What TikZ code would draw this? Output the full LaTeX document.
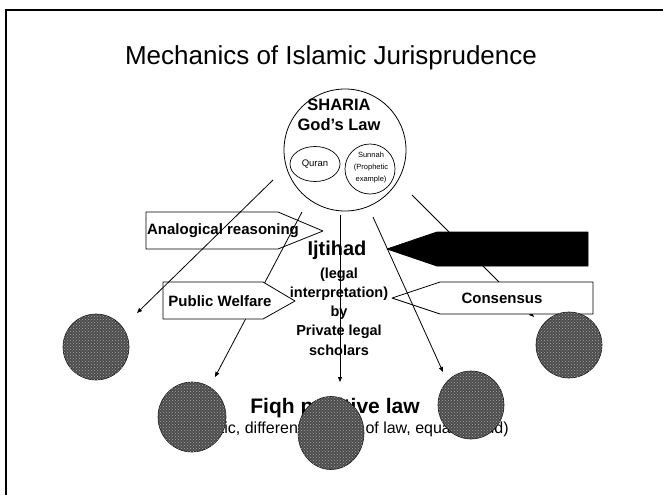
\documentclass[tikz,border=0pt]{standalone}
\usepackage{fontspec}
\setmainfont{Liberation Sans}
\usetikzlibrary{arrows.meta,shapes.geometric,patterns}

\newcommand{\fs}[2]{\fontsize{#1}{#2}\selectfont}

\begin{document}
\begin{tikzpicture}[x=1pt,y=1pt,
  tag/.style={draw=black,fill=white,line width=0.8pt,line join=round},
  lbl/.style={font=\bfseries\fs{15}{18}},
  link/.style={line width=0.8pt,-{Triangle[length=5pt,width=4pt]}},
  ball/.style={ellipse,draw=black!90,fill=black!70,line width=0.6pt,
    postaction={pattern=crosshatch dots,pattern color=black!35}}]
\tikzstyle{every node}+=[inner sep=0pt]
\useasboundingbox (0,0) rectangle (663,-495);
% frame
\draw [line width=1.5pt] (663,-10) -- (6,-10) -- (6,-495);
\node (title) at (331,-58) {\fs{26}{30}Mechanics of Islamic Jurisprudence};
% sharia
\node [circle,draw,line width=0.8pt,minimum size=122pt] (sharia) at (345,-150) {};
\node [font=\bfseries\fs{16.5}{20}] (shariatxt) at (339,-105) {SHARIA};
\node [font=\bfseries\fs{16.5}{20}] (godslaw) at (339,-125) {God's Law};
\node [ellipse,draw,line width=0.7pt,minimum width=50pt,minimum height=35pt,font=\fs{9.5}{11}] (quran) at (315,-164) {Quran};
\node [circle,draw,line width=0.7pt,minimum size=50pt] (sunnah) at (370,-169) {};
\node [align=center,font=\fs{7.5}{12}] (sunnahtxt) at (371,-168) {Sunnah\\(Prophetic\\example)};
% analogical reasoning
\draw [tag] (146,-212) -- (278,-212) -- (323,-231) -- (278,-249) -- (146,-249) -- cycle;
\node [lbl] (analog) at (223,-231) {Analogical reasoning};
% ijtihad
\node [font=\bfseries\fs{20}{24}] (ijtihad) at (337,-250) {Ijtihad};
\node [align=center,font=\bfseries\fs{14.5}{19.25}] (ijtdesc) at (339,-311.5) {(legal\\interpretation)\\by\\Private legal\\scholars};
\coordinate (s2) at (302,-212);
\coordinate (e2) at (215,-377);
\coordinate (s5) at (412,-195);
\coordinate (e5) at (534,-317);
\draw [link] (s2) -- (e2);
\draw [link] (s5) -- (e5);
% consensus and the black arrow
\draw [tag,fill=black] (387,-249) -- (437,-232) -- (588,-232) -- (588,-266) -- (437,-266) -- cycle;
\draw [tag] (392,-298) -- (440,-282) -- (593,-282) -- (593,-314) -- (440,-314) -- cycle;
\node [lbl] (consensus) at (502,-298) {Consensus};
% public welfare
\draw [tag] (163,-282) -- (263,-282) -- (295,-301) -- (263,-319) -- (163,-319) -- cycle;
\node [lbl] (welfare) at (220,-301) {Public Welfare};
\coordinate (s1) at (273,-180);
\coordinate (e1) at (137,-313);
\coordinate (s3) at (340,-215);
\coordinate (e3) at (340,-382);
\coordinate (s4) at (373,-217);
\coordinate (e4) at (443,-372);
\draw [link] (s1) -- (e1);
\draw [link] (s3) -- (e3);
\draw [link] (s4) -- (e4);
% fiqh
\node [font=\bfseries\fs{21}{25}] (fiqh) at (335,-408) {Fiqh positive law};
\node [font=\fs{16}{19}] (fiqhsub) at (339,-429) {(casuistic, different schools of law, equally valid)};
\node [ball,minimum width=66pt,minimum height=66pt] (g1) at (96,-347) {};
\node [ball,minimum width=68pt,minimum height=70pt] (g2) at (192,-417) {};
\node [ball,minimum width=66pt,minimum height=73pt] (g3) at (331,-433) {};
\node [ball,minimum width=66pt,minimum height=68pt] (g4) at (471,-405) {};
\node [ball,minimum width=66pt,minimum height=66pt] (g5) at (569,-345) {};
\end{tikzpicture}
\end{document}
